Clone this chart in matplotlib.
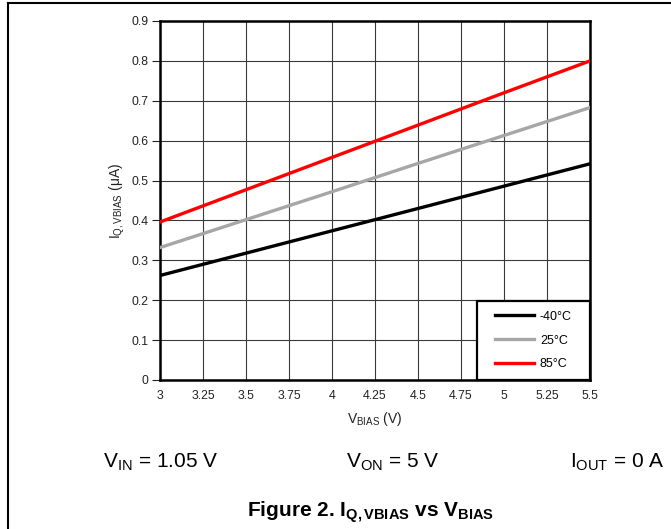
import matplotlib
matplotlib.use("Agg")
import matplotlib.pyplot as plt
from matplotlib.lines import Line2D
from matplotlib.patches import Rectangle

plt.rcParams['font.family'] = ['Liberation Sans', 'DejaVu Sans']
plt.rcParams['mathtext.fontset'] = 'custom'
plt.rcParams['mathtext.rm'] = 'Liberation Sans'
plt.rcParams['mathtext.it'] = 'Liberation Sans'
plt.rcParams['mathtext.bf'] = 'Liberation Sans:bold'

# data
v_bias = [3.0, 3.5, 4.0, 4.5, 5.0, 5.5]
iq_m40 = [0.262, 0.318, 0.374, 0.430, 0.486, 0.542]
iq_25 = [0.332, 0.402, 0.472, 0.543, 0.613, 0.683]
iq_85 = [0.396, 0.477, 0.558, 0.639, 0.720, 0.800]

x_ticks = [3, 3.25, 3.5, 3.75, 4, 4.25, 4.5, 4.75, 5, 5.25, 5.5]
x_labels = ['3', '3.25', '3.5', '3.75', '4', '4.25', '4.5', '4.75', '5', '5.25', '5.5']
y_ticks = [0, 0.1, 0.2, 0.3, 0.4, 0.5, 0.6, 0.7, 0.8, 0.9]
y_labels = ['0', '0.1', '0.2', '0.3', '0.4', '0.5', '0.6', '0.7', '0.8', '0.9']

W, H = 671, 529
fig = plt.figure(figsize=(6.71, 5.29), dpi=100)
ax = fig.add_axes([160 / W, 1 - 380 / H, 430 / W, 359 / H])

ax.plot(v_bias, iq_m40, color='black', lw=2.4, label='-40°C', zorder=3)
ax.plot(v_bias, iq_25, color='#a6a6a6', lw=2.4, label='25°C', zorder=3)
ax.plot(v_bias, iq_85, color='#ff0000', lw=2.4, label='85°C', zorder=3)

ax.set_xlim(3, 5.5)
ax.set_ylim(0, 0.9)
ax.set_xticks(x_ticks)
ax.set_xticklabels(x_labels)
ax.set_yticks(y_ticks)
ax.set_yticklabels(y_labels)
ax.tick_params(axis='x', length=0, pad=7, labelsize=8.8, colors='#222222')
ax.tick_params(axis='y', length=5.5, width=0.8, pad=3, labelsize=8.8, colors='#222222')
ax.grid(True, color='#3a3a3a', lw=0.8)
for s in ax.spines.values():
    s.set_linewidth(1.8)
    s.set_color('black')

ax.set_xlabel(r'V$_{\mathregular{BIAS}}$ (V)', fontsize=10, labelpad=6, color='#222222')
ax.set_ylabel(r'I$_{\mathregular{Q,VBIAS}}$ ($\mathregular{\mu}$A)', fontsize=10, labelpad=3, color='#222222')

# legend box drawn by hand so the padding matches, entries placed inside it
box_l, box_t = 477, 301
ax.add_patch(Rectangle(((box_l - 160) / 430, 0), (590 - box_l) / 430, (380 - box_t) / 359,
                       transform=ax.transAxes, facecolor='white', edgecolor='black',
                       lw=1.6, zorder=4, clip_on=False))
leg = ax.legend(loc='center', bbox_to_anchor=(((box_l + 590) / 2 - 160) / 430,
                                              (380 - (box_t + 380) / 2) / 359),
                frameon=False, borderpad=0, fontsize=9, handlelength=3.1,
                labelspacing=0.95, handletextpad=0.5)
leg.set_zorder(5)

# conditions under the chart
fig.text(161 / W, 1 - 468 / H, r'V$_{\mathregular{IN}}$ = 1.05 V', fontsize=15, ha='center', va='baseline')
fig.text(393 / W, 1 - 468 / H, r'V$_{\mathregular{ON}}$ = 5 V', fontsize=15, ha='center', va='baseline')
fig.text(617 / W, 1 - 468 / H, r'I$_{\mathregular{OUT}}$ = 0 A', fontsize=15, ha='center', va='baseline')
fig.text(371 / W, 1 - 517 / H, r'Figure 2. I$_{\mathbf{Q,VBIAS}}$ vs V$_{\mathbf{BIAS}}$',
         fontsize=15, fontweight='bold', ha='center', va='baseline')

# page frame (left and top edges)
fig.add_artist(Line2D([8 / W, 8 / W], [0, 1 - 3 / H], color='black', lw=1.5, transform=fig.transFigure))
fig.add_artist(Line2D([8 / W, 1], [1 - 3 / H, 1 - 3 / H], color='black', lw=1.5, transform=fig.transFigure))

fig.savefig('out.png', dpi=100)
